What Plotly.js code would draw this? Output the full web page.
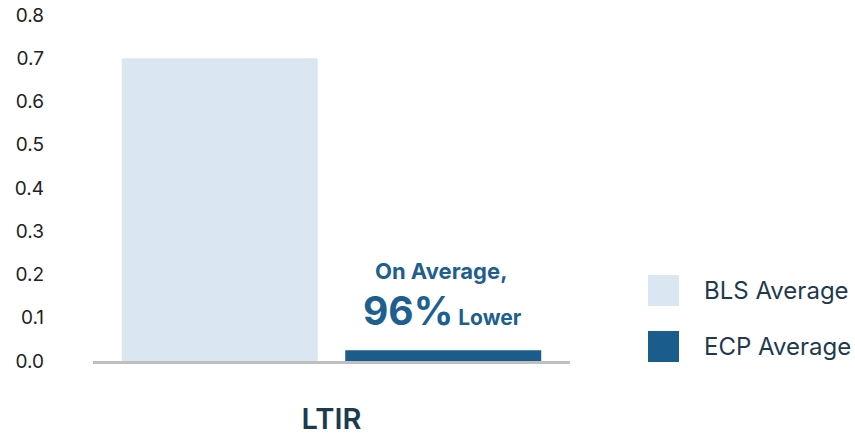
<!DOCTYPE html>
<html>
<head>
<meta charset="utf-8">
<script src="https://cdn.plot.ly/plotly-3.0.1.min.js"></script>
<style>html,body{margin:0;padding:0;background:#fff;}#chart{width:855px;height:440px;}</style>
</head>
<body>
<div id="chart"></div>
<script>
// Data
const categories = ["LTIR"];
const seriesNames = ["BLS Average", "ECP Average"];
const blsValues = [0.70];
const ecpValues = [0.025];
const yTickVals = [0, 0.1, 0.2, 0.3, 0.4, 0.5, 0.6, 0.7, 0.8];
const yTickText = ["0.0", "0.1", "0.2", "0.3", "0.4", "0.5", "0.6", "0.7", "0.8"];
const calloutLine1 = "On Average,";
const calloutBig = "96%";
const calloutSmall = "Lower";

const colors = ["#dae7f2", "#1a5c8c"];
const FONT = "Inter, 'Libre Franklin', Roboto, sans-serif";

const traces = [
  {type: "bar", x: categories, y: blsValues, name: seriesNames[0], marker: {color: colors[0]}, showlegend: false, hoverinfo: "skip"},
  {type: "bar", x: categories, y: ecpValues, name: seriesNames[1], marker: {color: colors[1]}, showlegend: false, hoverinfo: "skip"}
];

// plot area geometry (pixels) for paper-coordinate decorations
const L = 93, R = 570, T = 15, B = 361;
const px = v => (v - L) / (R - L);
const py = v => (B - v) / (B - T);

const legendShapes = [];
const legendAnn = [];
const legendRows = [290.5, 346.5];
seriesNames.forEach((n, i) => {
  const cy = legendRows[i];
  legendShapes.push({type: "rect", xref: "paper", yref: "paper",
    x0: px(648), x1: px(679), y0: py(cy + 15.5), y1: py(cy - 15.5),
    fillcolor: colors[i], line: {width: 0}});
  legendAnn.push({xref: "paper", yref: "paper", x: px(702), y: py(cy), xanchor: "left", yanchor: "middle",
    text: n, showarrow: false, font: {family: FONT, size: 24, color: "#1f3a4d"}});
});

const layout = {
  width: 855, height: 440,
  margin: {l: L, r: 855 - R, t: T, b: 440 - B},
  paper_bgcolor: "#ffffff", plot_bgcolor: "#ffffff",
  barmode: "group", bargap: 0.063, bargroupgap: 0.123,
  font: {family: FONT, color: "#222222"},
  xaxis: {
    showgrid: false, zeroline: false, showline: true, linecolor: "#bfbfbf", linewidth: 3,
    ticks: "", tickfont: {family: FONT, size: 29, color: "#1b3a4f", weight: 600},
    ticklabelstandoff: 30
  },
  yaxis: {
    range: [0, 0.8], tickvals: yTickVals, ticktext: yTickText,
    showgrid: false, zeroline: false, showline: false, ticks: "",
    tickfont: {family: FONT, size: 19, color: "#222222"},
    ticklabelstandoff: 48
  },
  shapes: legendShapes,
  annotations: legendAnn.concat([
    {xref: "paper", yref: "paper", x: px(441), y: py(271), xanchor: "center", yanchor: "middle",
     text: "<b>" + calloutLine1 + "</b>", showarrow: false, font: {family: FONT, size: 22, color: "#1d5f8f"}},
    {xref: "paper", yref: "paper", x: px(442), y: py(310), xanchor: "center", yanchor: "middle",
     text: "<b><span style='font-size:39px'>" + calloutBig + "</span> " + calloutSmall + "</b>", showarrow: false,
     font: {family: FONT, size: 21, color: "#1d5f8f"}}
  ])
};

Plotly.newPlot("chart", traces, layout, {displayModeBar: false, staticPlot: true});
</script>
</body>
</html>
